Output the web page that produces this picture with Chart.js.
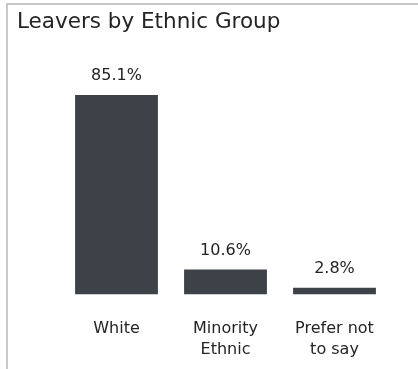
<!DOCTYPE html>
<html>
<head>
<meta charset="utf-8">
<script src="https://cdn.jsdelivr.net/npm/chart.js@4"></script>
<style>
  html, body { margin: 0; padding: 0; background: #fff; }
  .card {
    position: relative;
    width: 418px; height: 369px;
    overflow: hidden;
  }
  .card::before {
    content: '';
    position: absolute;
    left: 6px; top: 3px; right: -4px; bottom: -4px;
    border-top: 2px solid #c8c8c8;
    border-left: 2px solid #c8c8c8;
    pointer-events: none;
  }
  canvas { display: block; }
</style>
</head>
<body>
<div class="card">
  <canvas id="chart-etnia" width="418" height="393"></canvas>
</div>
<script>
/* ─── Dados ─── */
const TITULO = 'Leavers by Ethnic Group';
const categorias = [['White'], ['Minority', 'Ethnic'], ['Prefer not', 'to say']];
const percentuais = [85.1, 10.6, 2.8];

const COR_BARRA = '#3d4249';
const COR_TEXTO = '#252423';
const FONTE = "'DejaVu Sans', sans-serif";

/* ─── Título e rótulos de valor ─── */
const rotulosPlugin = {
  id: 'rotulos',
  afterDatasetsDraw(chart) {
    const ctx = chart.ctx;
    ctx.save();
    ctx.fillStyle = COR_TEXTO;
    ctx.textAlign = 'left';
    ctx.textBaseline = 'alphabetic';
    ctx.font = `21.5px ${FONTE}`;
    ctx.fillText(TITULO, 17, 28);

    ctx.textAlign = 'center';
    ctx.font = `16px ${FONTE}`;
    const meta = chart.getDatasetMeta(0);
    meta.data.forEach((bar, i) => {
      ctx.fillText(percentuais[i].toFixed(1) + '%', bar.x, bar.y - 15);
    });
    ctx.restore();
  }
};

const ctx = document.getElementById('chart-etnia').getContext('2d');
new Chart(ctx, {
  type: 'bar',
  data: {
    labels: categorias,
    datasets: [{
      data: percentuais,
      backgroundColor: COR_BARRA,
      borderWidth: 0,
      barPercentage: 0.76,
      categoryPercentage: 1,
    }]
  },
  options: {
    responsive: false,
    animation: false,
    layout: { padding: { left: 62, right: 29, top: 95, bottom: 17 } },
    plugins: {
      legend: { display: false },
      tooltip: { enabled: false },
    },
    scales: {
      x: {
        grid: { display: false },
        border: { display: false },
        ticks: {
          color: COR_TEXTO,
          padding: 16,
          font: { family: FONTE, size: 16, lineHeight: 1.3 },
          maxRotation: 0,
        }
      },
      y: {
        display: false,
        min: 0,
        max: 85.1,
      }
    }
  },
  plugins: [rotulosPlugin]
});
</script>
</body>
</html>
